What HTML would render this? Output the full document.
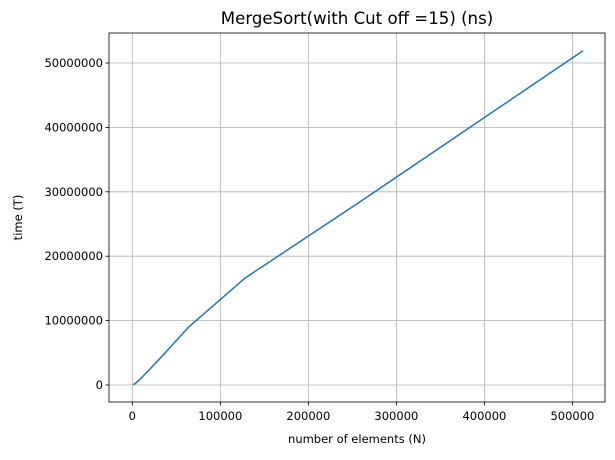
<!DOCTYPE html>
<html><head><meta charset="utf-8"><style>
body{margin:0;background:#fff;font-family:"Liberation Sans","DejaVu Sans",sans-serif}
svg text{font-family:"DejaVu Sans","Liberation Sans",sans-serif;font-size:11.5px;fill:#000}
</style></head><body>
<svg id="chart" width="615" height="455"></svg>
<script>
const nValues=[1000,2000,4000,8000,16000,32000,64000,128000,256000,512000];
const timeValues=[50000,100000,300000,800000,1900000,4200000,9000000,16600000,28200000,51900000];
const xTicks=[0,100000,200000,300000,400000,500000];
const yTicks=[0,10000000,20000000,30000000,40000000,50000000];
const L=109,R=605,T=33,B=402;
const xMin=-26500,xMax=537000,yMin=-2640000,yMax=54660000;
const sx=v=>L+(v-xMin)/(xMax-xMin)*(R-L);
const sy=v=>B-(v-yMin)/(yMax-yMin)*(B-T);
const svg=document.getElementById('chart');
const NS='http://www.w3.org/2000/svg';
function mk(t,a,p){const e=document.createElementNS(NS,t);for(const k in a)e.setAttribute(k,a[k]);(p||svg).appendChild(e);return e;}
xTicks.forEach(v=>{
const g=mk('line',{x1:sx(v),x2:sx(v),y1:T,y2:B,stroke:'#b0b0b0','stroke-width':0.8});


const tk=mk('line',{x1:sx(v),x2:sx(v),y1:B,y2:B+3.5,stroke:'#000','stroke-width':0.8});


const t=mk('text',{x:sx(v),y:B+18,'text-anchor':'middle'});t.textContent=v;


});
yTicks.forEach(v=>{
const g=mk('line',{x1:L,x2:R,y1:sy(v),y2:sy(v),stroke:'#b0b0b0','stroke-width':0.8});


const tk=mk('line',{x1:L-3.5,x2:L,y1:sy(v),y2:sy(v),stroke:'#000','stroke-width':0.8});


const t=mk('text',{x:L-6,y:sy(v)+4,'text-anchor':'end'});t.textContent=v;


});
const line=mk('polyline',{points:nValues.map((n,i)=>sx(n)+','+sy(timeValues[i])).join(' '),fill:'none',stroke:'#1f77b4','stroke-width':1.5});


const fr=mk('rect',{x:L,y:T,width:R-L,height:B-T,fill:'none',stroke:'#000','stroke-width':0.8});


const ti=mk('text',{x:(L+R)/2,y:T-9,'text-anchor':'middle',style:'font-size:16.6px'});ti.textContent='MergeSort(with Cut off =15) (ns)';


const xl=mk('text',{x:(L+R)/2,y:443,'text-anchor':'middle'});xl.textContent='number of elements (N)';


const yl=mk('text',{x:22,y:(T+B)/2,'text-anchor':'middle',transform:'rotate(-90 22 '+((T+B)/2)+')'});yl.textContent='time (T)';


</script>
</body></html>
